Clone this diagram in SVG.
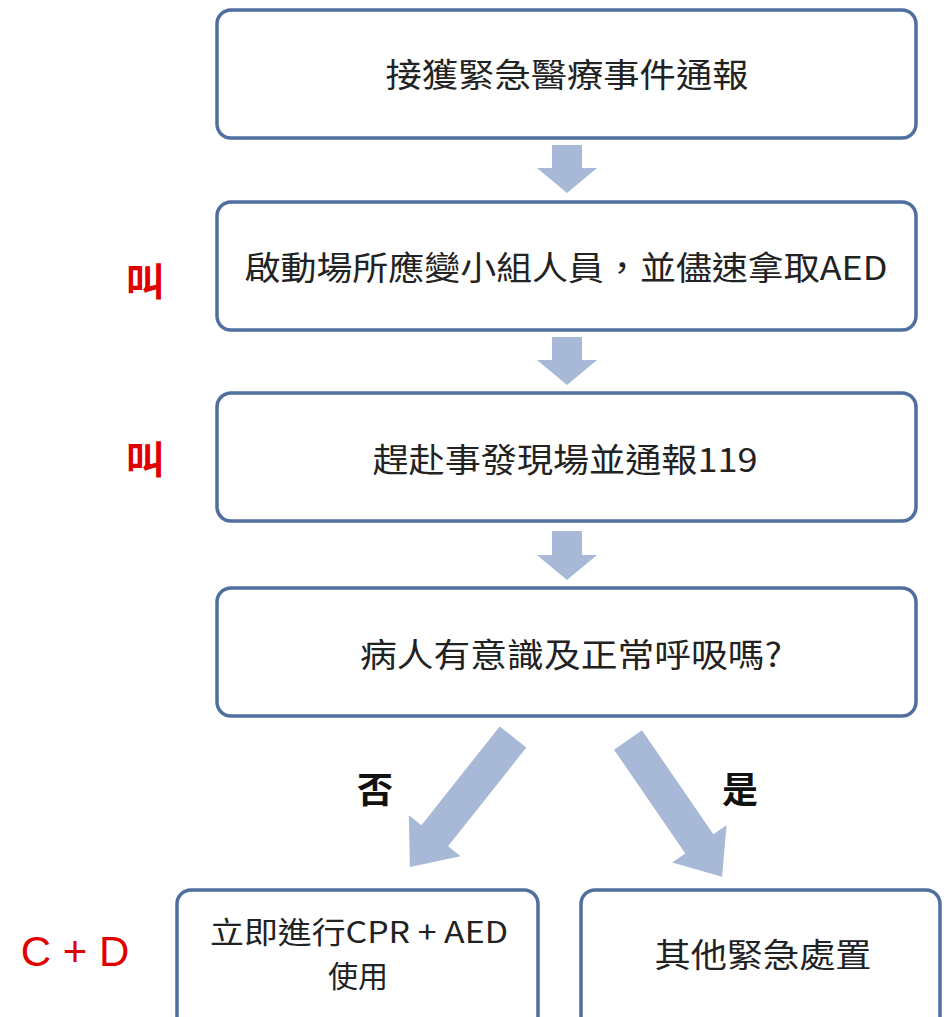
<svg xmlns="http://www.w3.org/2000/svg" width="944" height="1017" viewBox="0 0 944 1017">
<style>
.box{fill:#fff;stroke:#4f6f9f;stroke-width:3.5}
.t{font-family:"Noto Sans CJK TC","Noto Sans CJK SC",sans-serif;font-size:33px;fill:#222;text-anchor:middle}
.t2{font-family:"Noto Sans CJK TC","Noto Sans CJK SC",sans-serif;font-size:30px;fill:#222;text-anchor:middle}
.red{font-family:"Noto Sans CJK TC","Liberation Sans",sans-serif;fill:#e00000;text-anchor:middle}
.lab{font-family:"Noto Sans CJK TC",sans-serif;font-size:36px;font-weight:bold;fill:#111;text-anchor:middle}
.arr{fill:#a7b9d6}
</style>
<rect width="944" height="1017" fill="#fff"/>
<g id="connectors">
<polygon class="arr" points="552,145 582,145 582,168 597,168 567,193 537,168 552,168"/>
<polygon class="arr" points="552,337 582,337 582,360 597,360 567,385 537,360 552,360"/>
<polygon class="arr" points="552,531 582,531 582,555 597,555 567,580 537,555 552,555"/>
<polygon class="arr" transform="translate(513,737) rotate(128.4)" points="0,-17 126,-17 126,-33 166,0 126,33 126,17 0,17"/>
<polygon class="arr" transform="translate(628,740) rotate(55.5)" points="0,-17 126,-17 126,-33 166,0 126,33 126,17 0,17"/>
<text class="lab" x="375" y="803">否</text>
<text class="lab" x="740" y="803">是</text>
</g>
<g id="n1">
<rect class="box" x="217" y="10" width="699" height="128" rx="14"/>
<text class="t" x="567" y="87" textLength="363" lengthAdjust="spacingAndGlyphs">接獲緊急醫療事件通報</text>
</g>
<g id="n2">
<rect class="box" x="217" y="202" width="699" height="128" rx="14"/>
<text class="t" x="566" y="280" textLength="643" lengthAdjust="spacingAndGlyphs">啟動場所應變小組人員，並儘速拿取AED</text>
</g>
<g id="n3">
<rect class="box" x="217" y="393" width="699" height="128" rx="14"/>
<text class="t" x="565" y="472" textLength="385" lengthAdjust="spacingAndGlyphs">趕赴事發現場並通報119</text>
</g>
<g id="n4">
<rect class="box" x="217" y="588" width="699" height="128" rx="14"/>
<text class="t" x="571" y="667" textLength="422" lengthAdjust="spacingAndGlyphs">病人有意識及正常呼吸嗎?</text>
</g>
<g id="n5">
<rect class="box" x="177" y="890" width="361" height="145" rx="14"/>
<text class="t2" x="359" y="943" textLength="298" lengthAdjust="spacingAndGlyphs">立即進行CPR + AED</text>
<text class="t2" x="358" y="987">使用</text>
</g>
<g id="n6">
<rect class="box" x="581" y="890" width="359" height="145" rx="14"/>
<text class="t" x="763" y="967" textLength="217" lengthAdjust="spacingAndGlyphs">其他緊急處置</text>
</g>
<g id="side">
<text class="red" x="145" y="295" font-size="38" font-weight="bold">叫</text>
<text class="red" x="145" y="473" font-size="38" font-weight="bold">叫</text>
<text class="red" x="75" y="966" font-size="42" style="font-family:'Liberation Sans',sans-serif">C + D</text>
</g>
</svg>
